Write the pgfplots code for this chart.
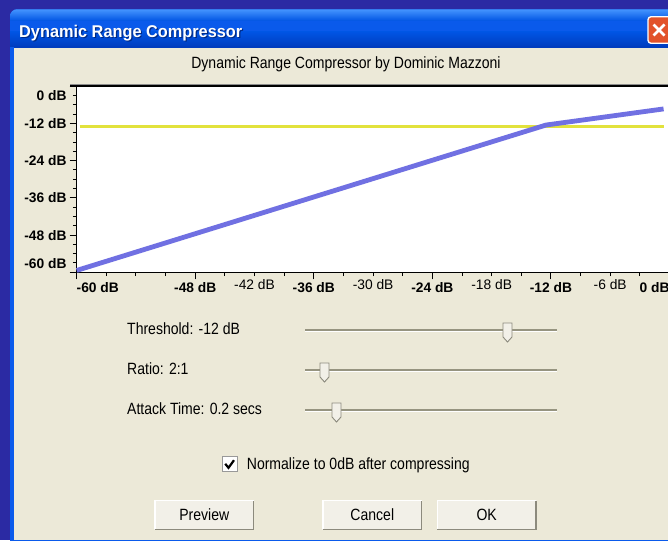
\documentclass[border=0pt]{standalone}
\usepackage{pgfplots}
\pgfplotsset{compat=1.18}
\usepackage{fontspec}
\setmainfont{Liberation Sans}
\newfontfamily\dlgfont{Liberation Sans}[FakeStretch=0.86]
\newfontfamily\ttlfont{Liberation Sans}[FakeStretch=0.96]
\definecolor{bgblue}{RGB}{43,42,163}
\definecolor{beige}{RGB}{236,233,216}
\definecolor{xpblue}{RGB}{0,84,227}
\definecolor{xplight}{RGB}{70,150,255}
\definecolor{xpdark}{RGB}{0,60,190}
\definecolor{bordblue}{RGB}{10,90,235}
\definecolor{curvecol}{RGB}{112,112,226}
\definecolor{thrcol}{RGB}{226,226,60}
\definecolor{track}{RGB}{150,148,128}
\definecolor{btnshadow}{RGB}{140,138,125}
\definecolor{btnface}{RGB}{242,240,232}
\definecolor{closered}{RGB}{226,82,42}
\newcommand{\dfont}{\dlgfont\fontsize{16.3pt}{19pt}\selectfont}
\newcommand{\thumb}[2]{%
  \filldraw[fill=btnface, draw=btnshadow, line width=0.9pt]
    ({#1-4.5},#2) -- ({#1+4.5},#2) -- ({#1+4.5},{#2-14}) -- (#1,{#2-19}) -- ({#1-4.5},{#2-14}) -- cycle;}
\newcommand{\track}[1]{%
  \fill[track] (305,{#1-0.2}) rectangle (557,{#1+1.8});
  \fill[white] (305,{#1-1.6}) rectangle (557,{#1-0.2});}
\newcommand{\btn}[3]{%
  \fill[btnface] (#1,10) rectangle (#2,40);
  \draw[white, line width=1.4pt] ({#1+0.7},10.7) -- ({#1+0.7},39.3) -- ({#2-0.7},39.3);
  \draw[btnshadow, line width=1.4pt] ({#1+0.7},10.7) -- ({#2-0.7},10.7) -- ({#2-0.7},39.3);
  \node[anchor=base, inner sep=0pt, font=\dfont] at ({(#1+#2)/2},20) {#3};}
\begin{document}
\begin{tikzpicture}[x=1pt,y=1pt]
\useasboundingbox (0,0) rectangle (668,540);
\clip (0,0) rectangle (668,540);
\fill[bgblue] (0,0) rectangle (668,540);
% window frame and title bar
\begin{scope}
  \clip[rounded corners=7pt] (10,-20) rectangle (700,530.7);
  \fill[bordblue] (10,-20) rectangle (700,531);
  \shade[top color=xplight, bottom color=xpblue] (10,519) rectangle (700,531);
  \shade[top color=xpblue, bottom color=xpdark] (10,493) rectangle (700,508);
\end{scope}
\fill[xpdark] (14,492) rectangle (700,494);
% dialog body
\fill[beige] (14,0) rectangle (700,492);
% title
\node[anchor=base west, inner sep=0pt, text=xpdark!70!black,
      font=\ttlfont\bfseries\fontsize{17pt}{20pt}\selectfont] at (20.2,501.5) {Dynamic Range Compressor};
\node[anchor=base west, inner sep=0pt, text=white,
      font=\ttlfont\bfseries\fontsize{17pt}{20pt}\selectfont] at (19,502.7) {Dynamic Range Compressor};
% close button
\filldraw[fill=closered, draw=white, line width=1.3pt, rounded corners=3pt] (648,496.7) rectangle (676,523.3);
\draw[white, line width=2.6pt] (653.5,504.5) -- (664.5,515.5) (653.5,515.5) -- (664.5,504.5);
% subtitle
\node[anchor=base, inner sep=0pt, font=\dfont] at (346,471) {Dynamic Range Compressor by Dominic Mazzoni};
% plot frame
\fill[white] (76.7,267.7) rectangle (700,454);
\fill[black!45] (70,454.6) rectangle (700,455.6);
\fill[black] (70,453.2) rectangle (700,454.6);
\begin{axis}[
  at={(76.7pt,267.7pt)}, anchor=south west,
  width=592.8pt, height=186pt, scale only axis,
  xmin=-60, xmax=0, ymin=-60, ymax=0,
  axis lines=left, axis line style={-, line width=1.3pt, black},
  clip=false,
  tick align=outside,
  major tick length=7pt, minor tick length=3.8pt,
  every tick/.style={black, line width=1pt},
  xtick={-60,-48,-36,-24,-12,0},
  xticklabels={\makebox[0pt][l]{-60 dB},-48 dB,-36 dB,-24 dB,-12 dB,\makebox[0pt][r]{0 dB}},
  minor x tick num=3,
  xticklabel style={font=\bfseries\fontsize{13.8pt}{15pt}\selectfont, anchor=north, inner sep=0pt, yshift=-3pt},
  extra x ticks={-42,-30,-18,-6},
  extra x tick labels={-42 dB,-30 dB,-18 dB,-6 dB},
  extra x tick style={major tick length=3.8pt,
     xticklabel style={font=\fontsize{13.8pt}{15pt}\selectfont, anchor=north, inner sep=0pt}},
  ytick={-60,-48,-36,-24,-12,0},
  yticklabels={\raisebox{4pt}[0pt][0pt]{-60 dB},-48 dB,-36 dB,-24 dB,-12 dB,\raisebox{-14.4pt}[0pt][0pt]{0 dB}},
  minor y tick num=3,
  yticklabel style={font=\bfseries\fontsize{13.8pt}{15pt}\selectfont, anchor=east, inner sep=0pt, xshift=-3pt},
]
\addplot[thrcol, line width=2.2pt] coordinates {(-59.7,-13) (-0.6,-13)};
\addplot[curvecol, line width=4.8pt, line join=round] coordinates {(-60,-59.4) (-12.5,-12.5) (-0.6,-7.3)};
\end{axis}
% sliders
\node[anchor=base west, inner sep=0pt, font=\dfont] at (127,205) {Threshold: -12 dB};
\node[anchor=base west, inner sep=0pt, font=\dfont] at (127,165) {Ratio: 2:1};
\node[anchor=base west, inner sep=0pt, font=\dfont] at (127,125) {Attack Time: 0.2 secs};
\track{209.5}
\track{169.5}
\track{129.5}
\thumb{507.5}{217}
\thumb{324.5}{177}
\thumb{336.5}{137}
% checkbox
\filldraw[fill=white, draw=black!40, line width=1pt] (222,68) rectangle (237,83);
\draw[black, line width=2.2pt] (225.2,76.2) -- (228.5,72.2) -- (234,79.8);
\node[anchor=base west, inner sep=0pt, font=\dfont] at (246.7,70) {Normalize to 0dB after compressing};
% buttons
\btn{154.3}{254.3}{Preview}
\btn{322.3}{422.3}{Cancel}
\btn{436.7}{536.7}{OK}
\end{tikzpicture}
\end{document}
